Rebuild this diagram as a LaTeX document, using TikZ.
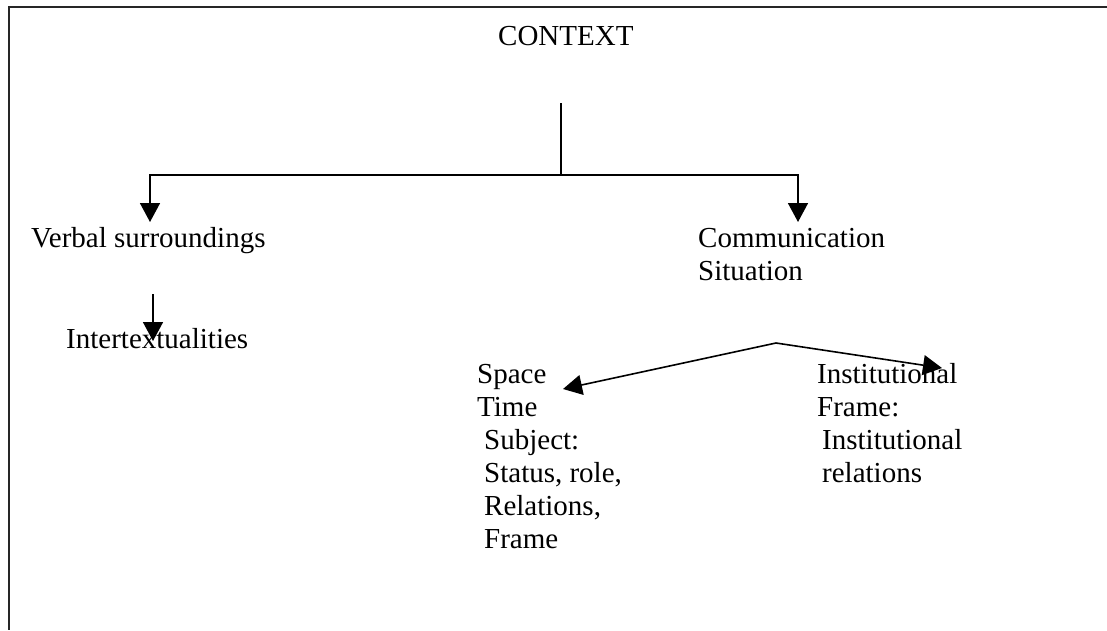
\documentclass[tikz,border=0pt]{standalone}
\usepackage{fontspec}
\setmainfont{Liberation Serif}
\usetikzlibrary{arrows.meta}
\newcommand{\indsp}{\hspace*{7pt}}

\begin{document}
\begin{tikzpicture}[x=1pt, y=-1pt,
    lbl/.style={anchor=base west, inner sep=0pt, align=left,
                font=\fontsize{29}{33}\selectfont},
    link/.style={line width=1.6pt},
    tip/.style={link, -{Triangle[width=20pt, length=19pt]}},
  ]
    \useasboundingbox (0,0) rectangle (1107,630);
    % Frame (top and left)
    \draw[line width=2pt, black!85] (1107,7) -- (9,7) -- (9,630);

    % Texts (multi-line nodes sit on their last baseline)
    \node[lbl] (context) at (498,45) {CONTEXT};
    \node[lbl] (verbal) at (31,247) {Verbal surroundings};
    \node[lbl] (inter) at (66,348) {Intertextualities};
    \node[lbl] (commsit) at (698,280) {Communication\\Situation};
    \node[lbl] (spacetime) at (477,548) {Space\\Time\\\indsp Subject:\\\indsp Status, role,\\\indsp Relations,\\\indsp Frame};
    \node[lbl] (instit) at (817,482) {Institutional\\Frame:\\\hspace*{5pt}Institutional\\\hspace*{5pt}relations};

    % Tree
    \coordinate (ctxfoot) at (561,103);
    \coordinate (fork) at (561,175);
    \coordinate (vtip) at (150,222);
    \coordinate (ctip) at (798,222);
    \draw[link] (ctxfoot) -- (fork);
    \draw[tip] (fork) -| (vtip);
    \draw[tip] (fork) -| (ctip);

    \coordinate (itop) at (153,294);
    \coordinate (itip) at (153,341);
    \draw[tip] (itop) -- (itip);

    \coordinate (split) at (776,343);
    \coordinate (stip) at (563,389);
    \coordinate (rtip) at (942,368);
    \draw[tip] (split) -- (stip);
    \draw[tip] (split) -- (rtip);
\end{tikzpicture}
\end{document}
